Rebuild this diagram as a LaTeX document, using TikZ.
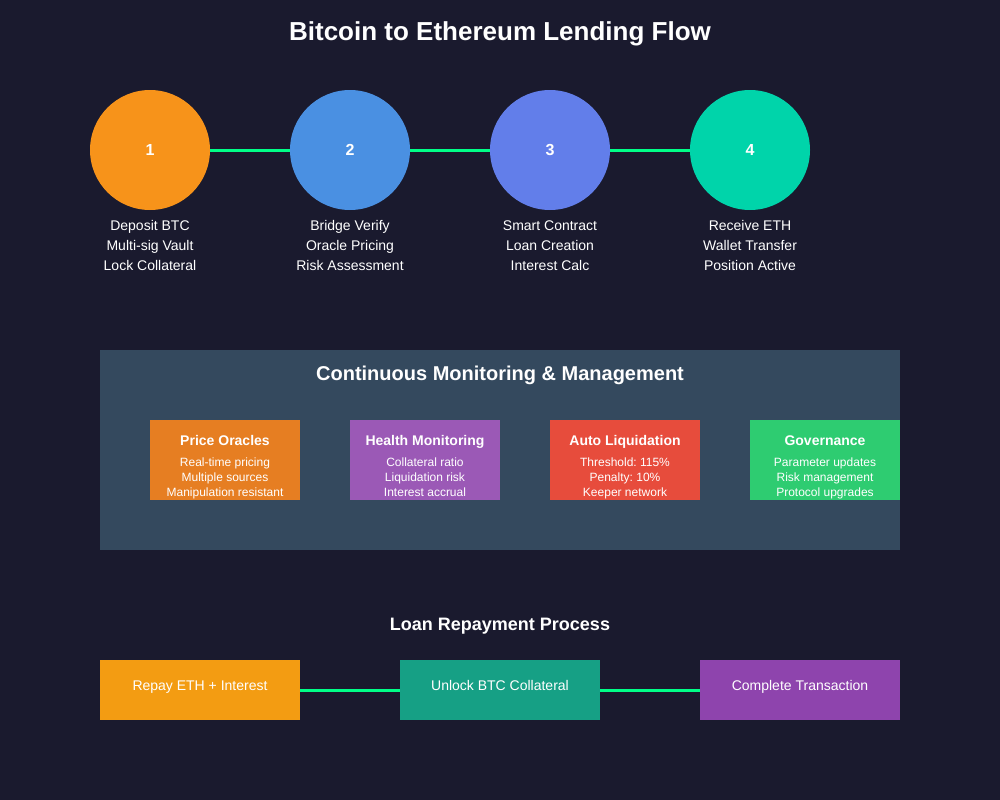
\documentclass[tikz,border=0pt]{standalone}
\usepackage{fontspec}
\setmainfont{Liberation Sans}
\usetikzlibrary{positioning}
\frenchspacing

\definecolor{bgdark}{HTML}{1A1A2E}
\definecolor{panel}{HTML}{34495E}
\definecolor{linkgreen}{HTML}{00FF88}
\definecolor{btcorange}{HTML}{F7931A}
\definecolor{bridgeblue}{HTML}{4A90E2}
\definecolor{ethblue}{HTML}{627EEA}
\definecolor{ethteal}{HTML}{00D4AA}
\definecolor{oracleorange}{HTML}{E67E22}
\definecolor{healthpurple}{HTML}{9B59B6}
\definecolor{liqred}{HTML}{E74C3C}
\definecolor{govgreen}{HTML}{2ECC71}
\definecolor{repayorange}{HTML}{F39C12}
\definecolor{unlockteal}{HTML}{16A085}
\definecolor{donepurple}{HTML}{8E44AD}

\begin{document}
\begin{tikzpicture}[x=0.75pt,y=-0.75pt,
  stage/.style={circle,minimum size=90pt,inner sep=0pt,text=white,
    font=\bfseries\fontsize{12}{14}\selectfont},
  caption/.style={anchor=north,inner sep=0pt,align=center,text=white,
    font=\fontsize{10.5}{15}\selectfont},
  link/.style={linkgreen,line width=2.25pt},
  monbox/.style={minimum width=112.5pt,minimum height=60pt,inner sep=0pt},
  montitle/.style={text=white,inner sep=0pt,font=\bfseries\fontsize{10.5}{12}\selectfont},
  mondetail/.style={anchor=north,inner sep=0pt,align=center,text=white,
    font=\fontsize{9}{11.25}\selectfont},
  repaybox/.style={minimum width=150pt,minimum height=45pt,inner sep=0pt},
  repaytext/.style={anchor=base,inner sep=0pt,text=white,font=\fontsize{10.5}{12}\selectfont},
  heading/.style={text=white,inner sep=0pt,font=\bfseries\fontsize{#1}{#1}\selectfont}]

  \fill[bgdark] (0,0) rectangle (1000,800);
  \useasboundingbox (0,0) rectangle (1000,800);

  \node[heading=19.5] (title) at (500,34) {Bitcoin to Ethereum Lending Flow};

  % lending steps
  \node[stage,fill=btcorange]  (s1) at (150,150) {1};
  \node[stage,fill=bridgeblue] (s2) at (350,150) {2};
  \node[stage,fill=ethblue]    (s3) at (550,150) {3};
  \node[stage,fill=ethteal]    (s4) at (750,150) {4};

  \draw[link] (s1) -- (s2);
  \draw[link] (s2) -- (s3);
  \draw[link] (s3) -- (s4);

  \node[caption] (c1) at (150,220) {Deposit BTC\\Multi-sig Vault\\Lock Collateral};
  \node[caption] (c2) at (350,220) {Bridge Verify\\Oracle Pricing\\Risk Assessment};
  \node[caption] (c3) at (550,220) {Smart Contract\\Loan Creation\\Interest Calc};
  \node[caption] (c4) at (750,220) {Receive ETH\\Wallet Transfer\\Position Active};

  % monitoring panel
  \fill[panel] (100,350) rectangle (900,550);
  \node[heading=15] (montitle) at (500,375) {Continuous Monitoring \& Management};

  \node[monbox,fill=oracleorange] (m1) at (225,460) {};
  \node[monbox,fill=healthpurple] (m2) at (425,460) {};
  \node[monbox,fill=liqred]       (m3) at (625,460) {};
  \node[monbox,fill=govgreen]     (m4) at (825,460) {};

  \node[montitle,anchor=base] (t1) at (225,445) {Price Oracles};
  \node[montitle,anchor=base] (t2) at (425,445) {Health Monitoring};
  \node[montitle,anchor=base] (t3) at (625,445) {Auto Liquidation};
  \node[montitle,anchor=base] (t4) at (825,445) {Governance};

  \node[mondetail] (d1) at (225,458) {Real-time pricing\\Multiple sources\\Manipulation resistant};
  \node[mondetail] (d2) at (425,458) {Collateral ratio\\Liquidation risk\\Interest accrual};
  \node[mondetail] (d3) at (625,458) {Threshold: 115\%\\Penalty: 10\%\\Keeper network};
  \node[mondetail] (d4) at (825,458) {Parameter updates\\Risk management\\Protocol upgrades};

  % repayment
  \node[heading=13.5] (reptitle) at (500,626) {Loan Repayment Process};

  \node[repaybox,fill=repayorange] (r1) at (200,690) {};
  \node[repaybox,fill=unlockteal]  (r2) at (500,690) {};
  \node[repaybox,fill=donepurple]  (r3) at (800,690) {};

  \draw[link] (r1) -- (r2);
  \draw[link] (r2) -- (r3);

  \node[repaytext] (p1) at (200,690) {Repay ETH + Interest};
  \node[repaytext] (p2) at (500,690) {Unlock BTC Collateral};
  \node[repaytext] (p3) at (800,690) {Complete Transaction};
\end{tikzpicture}
\end{document}
